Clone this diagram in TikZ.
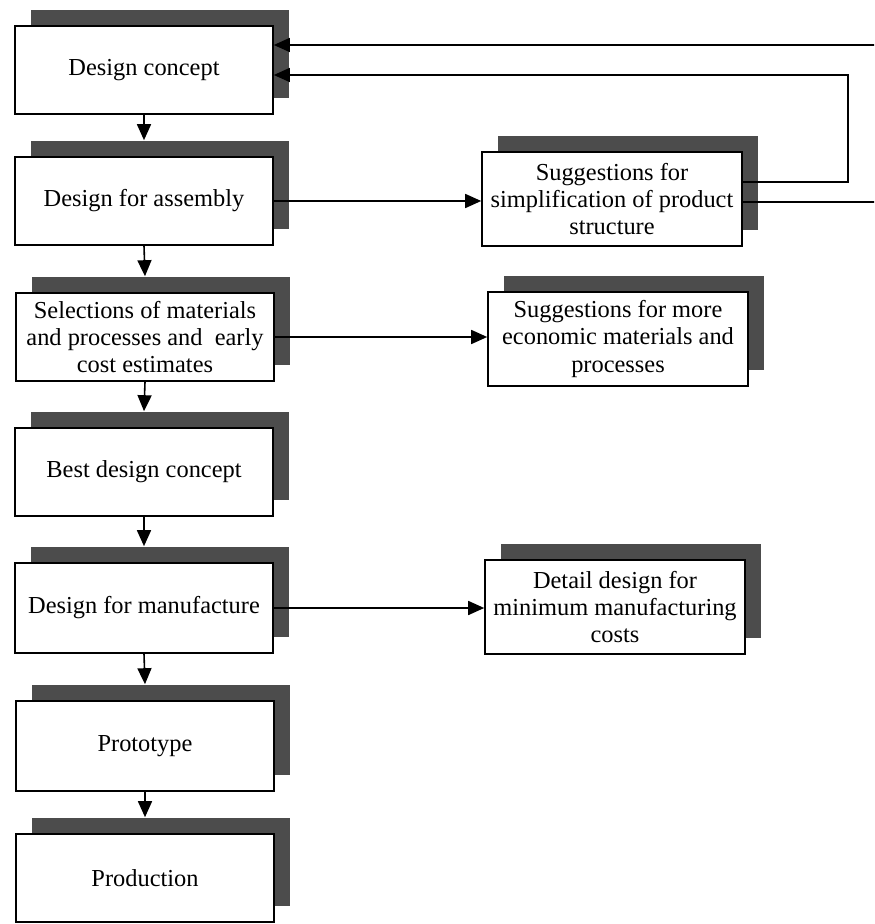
\documentclass[tikz,border=0pt]{standalone}
\usepackage{fontspec}
\setmainfont{Liberation Serif}
\usetikzlibrary{arrows.meta,shadows}
\tikzset{
  stage/.style={draw, fill=white, line width=0.8pt, align=center,
    minimum width=129pt, minimum height=44pt,
    font=\fontsize{12.2}{13.6}\selectfont,
    general shadow={fill=black!70, shadow xshift=8pt, shadow yshift=8pt}},
  hint/.style={stage, minimum width=130pt, minimum height=47pt},
  flow/.style={-{Triangle[length=8pt,width=7pt]}, line width=0.8pt},
}
\begin{document}
\begin{tikzpicture}[x=0.5pt, y=-0.5pt]
\clip (0,0) rectangle (874,924);
% main column
\node[stage] (concept) at (144,70) {Design concept};
\node[stage] (assembly) at (144,201) {Design for assembly};
\node[stage] (materials) at (145,337) {Selections of materials\\and processes and\ \ early\\cost estimates};
\node[stage] (best) at (144,472) {Best design concept};
\node[stage, minimum height=45pt] (manufacture) at (144,608) {Design for manufacture};
\node[stage, minimum height=45pt] (prototype) at (145,746) {Prototype};
\node[stage] (production) at (145,878) {Production};

% side column
\node[hint] (simplify) at (612,199) {Suggestions for\\simplification of product\\structure};
\node[hint] (economic) at (618,339) {Suggestions for more\\economic materials and\\processes};
\node[hint] (detail) at (615,607) {Detail design for\\minimum manufacturing\\costs};

\draw[flow] (concept.south) -- ([yshift=8pt]assembly.north);
\draw[flow] (assembly.south) -- ([yshift=8pt]materials.north);
\draw[flow] (materials.south) -- ([yshift=8pt]best.north);
\draw[flow] (best.south) -- ([yshift=8pt]manufacture.north);
\draw[flow] (manufacture.south) -- ([yshift=8pt]prototype.north);
\draw[flow] (prototype.south) -- ([yshift=8pt]production.north);

\draw[flow] (assembly.east) -- (assembly.east -| simplify.west);
\draw[flow] (materials.east) -- (materials.east -| economic.west);
\draw[flow] (manufacture.east) -- (manufacture.east -| detail.west);

% feedback to the concept
\draw[flow] ([yshift=8.5pt]simplify.east) -- ++(105,0) |- ([yshift=-2.5pt]concept.east);
\draw[flow] ([yshift=-1.5pt]simplify.east) -- ++(170,0) |- ([yshift=12.5pt]concept.east);
\end{tikzpicture}
\end{document}
